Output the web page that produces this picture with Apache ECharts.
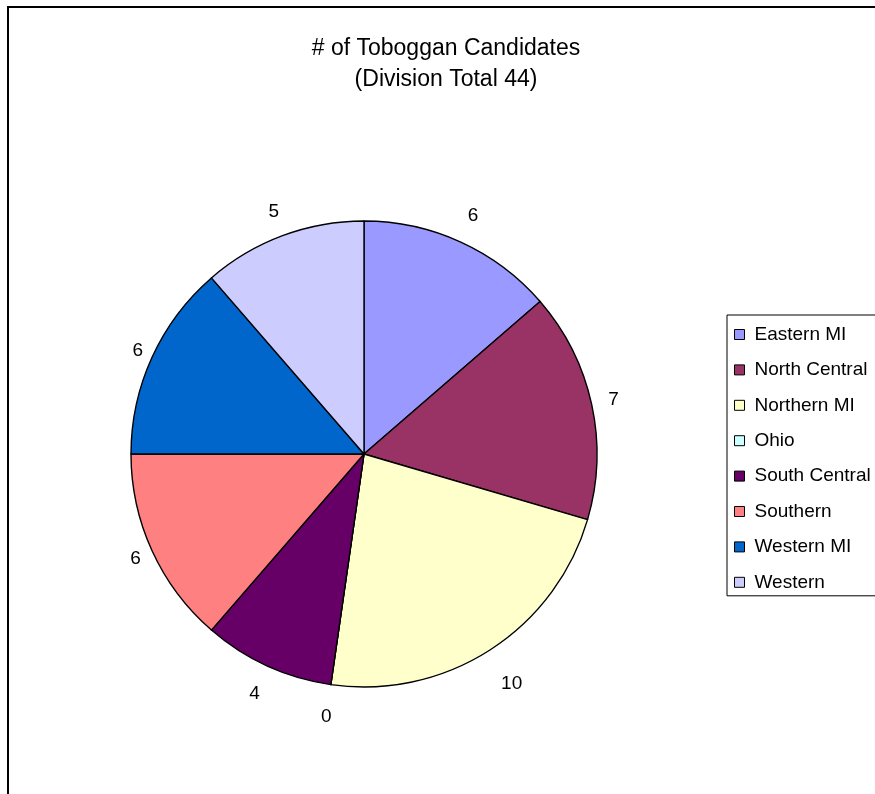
<!DOCTYPE html>
<html>
<head>
<meta charset="utf-8">
<script src="https://cdn.jsdelivr.net/npm/echarts@6/dist/echarts.min.js"></script>
<style>
  html, body { margin: 0; padding: 0; background: #fff; }
  #chart { width: 875px; height: 794px; }
</style>
</head>
<body>
<div id="chart"></div>
<script>
// Candidate counts per division
const divisions = ['Eastern MI', 'North Central', 'Northern MI', 'Ohio', 'South Central', 'Southern', 'Western MI', 'Western'];
const candidates = [6, 7, 10, 0, 4, 6, 6, 5];
const sliceColors = ['#9999FF', '#993366', '#FFFFCC', '#CCFFFF', '#660066', '#FF8080', '#0066CC', '#CCCCFF'];
const titleLines = ['# of Toboggan Candidates', '(Division Total 44)'];

const FONT = '"Liberation Sans", Arial, sans-serif';
const CENTER = [364, 454];
const R = 233;
const RING = 60;            // thickness of the invisible label ring
const LABEL_FONT = 19;
const LABEL_GAP = 5;        // base gap between pie edge and label
const LABEL_UP = 18.6;      // vertical clearance for labels above the centre
const LABEL_DOWN = 24.6;    // vertical clearance for labels below the centre

const pieData = divisions.map((name, i) => ({
  name: name,
  value: candidates[i],
  itemStyle: { color: sliceColors[i] }
}));

// Value labels sit just outside the rim; each one is pushed out along its
// slice's mid-angle far enough for its text box to clear the edge.
const total = candidates.reduce((a, b) => a + b, 0);
let acc = 0;
const labelData = divisions.map((name, i) => {
  const v = candidates[i];
  const theta = (acc + v / 2) / total * Math.PI * 2;
  acc += v;
  const sx = Math.sin(theta), sy = -Math.cos(theta);
  const textW = String(v).length * 0.556 * LABEL_FONT;
  const horiz = sx > 0 ? textW : 0;
  const vert = sy > 0 ? LABEL_DOWN : LABEL_UP;
  const want = R + LABEL_GAP + Math.abs(sx) * horiz + Math.abs(sy) * vert;
  const shift = want - (R + RING / 2);
  return {
    name: name,
    value: v,
    label: { offset: [sx * shift, sy * shift] }
  };
});

const chart = echarts.init(document.getElementById('chart'), null, { renderer: 'canvas' });

chart.setOption({
  animation: false,
  backgroundColor: '#ffffff',
  title: {
    text: titleLines.join('\n'),
    left: 446,
    top: 33,
    padding: 0,
    textAlign: 'center',
    textStyle: {
      fontFamily: FONT,
      fontSize: 23,
      fontWeight: 'normal',
      color: '#000',
      lineHeight: 31
    }
  },
  legend: {
    orient: 'vertical',
    left: 727,
    top: 315,
    padding: [9.5, 12, 3.5, 7],
    itemGap: 15.4,
    itemWidth: 10,
    itemHeight: 10,
    icon: 'rect',
    borderColor: '#000',
    borderWidth: 1,
    selectedMode: false,
    data: divisions,
    itemStyle: { borderColor: '#000', borderWidth: 1 },
    textStyle: {
      fontFamily: FONT,
      fontSize: 19,
      color: '#000',
      lineHeight: 20,
      padding: [0, 0, 0, 5]
    }
  },
  graphic: [{
    type: 'rect',
    shape: { x: 8, y: 7, width: 1000, height: 1000 },
    style: { fill: 'none', stroke: '#000', lineWidth: 2 },
    silent: true,
    z: 100
  }],
  series: [
    {
      type: 'pie',
      center: CENTER,
      radius: R,
      startAngle: 90,
      clockwise: true,
      data: pieData,
      itemStyle: { borderColor: '#000', borderWidth: 1.4 },
      label: { show: false },
      labelLine: { show: false },
      emphasis: { disabled: true },
      silent: true
    },
    {
      // invisible ring carrying the value labels outside the pie
      type: 'pie',
      center: CENTER,
      radius: [R, R + RING],
      startAngle: 90,
      clockwise: true,
      data: labelData,
      itemStyle: { color: 'rgba(0,0,0,0)', borderWidth: 0 },
      label: {
        show: true,
        position: 'inside',
        formatter: '{c}',
        fontFamily: FONT,
        fontSize: LABEL_FONT,
        color: '#000'
      },
      labelLine: { show: false },
      emphasis: { disabled: true },
      silent: true,
      z: 3
    }
  ]
});
</script>
</body>
</html>
